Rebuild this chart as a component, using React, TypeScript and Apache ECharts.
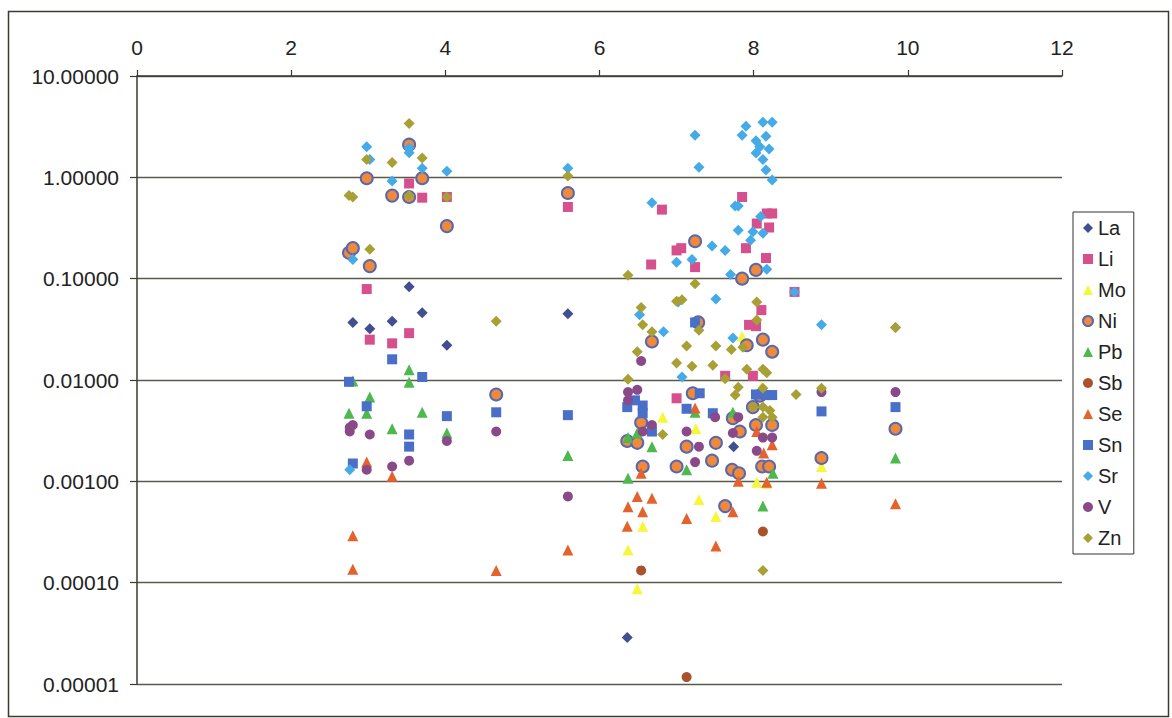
import React, { useEffect, useRef } from "react";
import * as echarts from "echarts";

type Pt = [number, number];

const seriesNames = ["La", "Li", "Mo", "Ni", "Pb", "Sb", "Se", "Sn", "Sr", "V", "Zn"];

const La: Pt[] = [[2.80,0.037],[3.02,0.032],[3.31,0.038],[3.53,0.083],[3.70,0.046],[4.02,0.022],[5.59,0.045],[6.36,0.0000288],[7.74,0.0022]];

const Li: Pt[] = [[2.98,0.079],[3.02,0.025],[3.31,0.023],[3.53,0.029],[3.53,0.87],[3.70,0.63],[4.02,0.64],[5.59,0.51],[6.67,0.138],[6.81,0.48],[7.00,0.19],[7.06,0.20],[7.24,0.13],[7.00,0.0066],[7.63,0.011],[7.85,0.64],[7.90,0.20],[7.94,0.035],[7.99,0.011],[8.03,0.034],[8.04,0.35],[8.10,0.049],[8.16,0.16],[8.17,0.44],[8.20,0.32],[8.24,0.44],[8.53,0.074]];

const Mo: Pt[] = [[6.37,0.00021],[6.49,0.000087],[6.56,0.00036],[6.82,0.0043],[7.25,0.0033],[7.29,0.00066],[7.51,0.00045],[7.85,0.027],[8.04,0.00098],[8.10,0.0085],[8.17,0.00096],[8.88,0.0014]];

const Ni: Pt[] = [[2.75,0.18],[2.80,0.20],[2.98,0.98],[3.02,0.133],[3.31,0.66],[3.53,2.1],[3.53,0.64],[3.70,0.98],[4.02,0.33],[4.66,0.0072],[5.59,0.70],[6.36,0.0025],[6.49,0.0024],[6.54,0.0038],[6.56,0.0014],[6.68,0.024],[7.00,0.0014],[7.13,0.0022],[7.21,0.0074],[7.24,0.234],[7.28,0.037],[7.46,0.0016],[7.51,0.0024],[7.63,0.00057],[7.72,0.0013],[7.73,0.0042],[7.81,0.0012],[7.82,0.0031],[7.85,0.10],[7.91,0.022],[7.99,0.0054],[8.03,0.122],[8.03,0.0036],[8.08,0.0070],[8.11,0.0014],[8.12,0.025],[8.20,0.0014],[8.24,0.019],[8.24,0.0036],[8.88,0.0017],[9.84,0.0033]];

const Pb: Pt[] = [[2.75,0.0047],[2.80,0.0098],[2.98,0.0047],[3.02,0.0068],[3.31,0.0033],[3.53,0.0126],[3.53,0.0095],[3.70,0.0048],[4.02,0.0030],[5.59,0.0018],[6.37,0.00107],[6.37,0.0027],[6.49,0.0030],[6.68,0.0022],[7.13,0.0013],[7.24,0.0048],[7.73,0.0048],[8.12,0.00057],[8.25,0.0012],[9.84,0.0017]];

const Sb: Pt[] = [[6.54,0.000132],[7.13,0.0000117],[8.12,0.00032]];

const Se: Pt[] = [[2.80,0.00029],[2.80,0.000136],[2.98,0.00155],[3.31,0.00112],[4.66,0.000132],[5.59,0.00021],[6.36,0.00036],[6.37,0.00056],[6.49,0.00071],[6.54,0.0012],[6.56,0.0005],[6.68,0.00068],[7.13,0.00043],[7.24,0.0053],[7.51,0.00023],[7.73,0.0005],[7.80,0.0010],[8.04,0.0031],[8.13,0.0019],[8.17,0.00098],[8.24,0.0023],[8.88,0.00096],[9.84,0.0006]];

const Sn: Pt[] = [[2.75,0.0096],[2.80,0.0015],[2.98,0.0055],[3.31,0.016],[3.53,0.0029],[3.53,0.0022],[3.70,0.0107],[4.02,0.0044],[4.66,0.0048],[5.59,0.0045],[6.36,0.0054],[6.46,0.0063],[6.56,0.0056],[6.56,0.0047],[6.68,0.0031],[7.13,0.0052],[7.24,0.037],[7.30,0.0074],[7.47,0.0047],[8.03,0.0072],[8.16,0.0071],[8.24,0.0071],[8.88,0.0049],[9.84,0.0054]];

const Sr: Pt[] = [[2.76,0.0013],[2.80,0.155],[2.98,2.0],[3.02,1.5],[3.31,0.92],[3.53,1.95],[3.53,1.75],[3.70,1.23],[4.02,1.15],[5.59,1.23],[6.52,0.044],[6.68,0.56],[6.83,0.030],[7.00,0.145],[7.02,0.059],[7.07,0.0107],[7.20,0.155],[7.24,2.6],[7.29,1.26],[7.46,0.21],[7.51,0.063],[7.63,0.19],[7.70,0.11],[7.73,0.026],[7.76,0.52],[7.80,0.52],[7.80,0.30],[7.85,2.6],[7.90,3.2],[7.96,0.24],[7.99,0.29],[8.03,2.3],[8.03,1.74],[8.08,2.0],[8.09,0.41],[8.12,3.5],[8.12,1.5],[8.12,0.28],[8.16,2.55],[8.16,1.18],[8.17,0.124],[8.20,1.9],[8.24,3.5],[8.24,0.94],[8.53,0.074],[8.88,0.035],[9.84,0.033]];

const V: Pt[] = [[2.76,0.0034],[2.76,0.0031],[2.80,0.0036],[2.98,0.0013],[3.02,0.0029],[3.31,0.0014],[3.53,0.0016],[4.02,0.0025],[4.66,0.0031],[5.59,0.00071],[6.37,0.0076],[6.37,0.0063],[6.49,0.0080],[6.54,0.0154],[6.56,0.0031],[6.68,0.0036],[7.13,0.0031],[7.24,0.00155],[7.29,0.0022],[7.50,0.0043],[7.73,0.0030],[7.80,0.0043],[8.04,0.0020],[8.12,0.0027],[8.24,0.0027],[8.88,0.0076],[9.84,0.0076]];

const Zn: Pt[] = [[2.75,0.66],[2.80,0.64],[2.98,1.5],[3.02,0.195],[3.31,1.4],[3.53,3.4],[3.53,0.66],[3.70,1.55],[4.02,0.64],[4.66,0.038],[5.59,1.03],[6.37,0.108],[6.37,0.0102],[6.49,0.019],[6.54,0.052],[6.56,0.035],[6.68,0.030],[6.82,0.0029],[7.00,0.060],[7.00,0.0147],[7.07,0.062],[7.13,0.0216],[7.20,0.0137],[7.24,0.089],[7.29,0.031],[7.47,0.014],[7.51,0.0216],[7.63,0.0103],[7.71,0.020],[7.76,0.0071],[7.80,0.0085],[7.86,0.021],[7.91,0.0128],[7.99,0.0054],[8.04,0.059],[8.04,0.039],[8.12,0.0128],[8.12,0.0083],[8.12,0.0054],[8.12,0.0043],[8.12,0.000132],[8.17,0.0118],[8.21,0.0050],[8.24,0.0043],[8.55,0.0072],[8.88,0.0083],[9.84,0.033]];

const xTicks = [0, 2, 4, 6, 8, 10, 12];
const yMin = 0.00001;
const yMax = 10;

const FONT = "'Liberation Sans', Arial, sans-serif";

export default function App() {
  const ref = useRef<HTMLDivElement>(null);
  useEffect(() => {
    document.body.style.margin = "0";
    if (!ref.current) return;
    const chart = echarts.init(ref.current, undefined, { renderer: "svg" });
    const dataMap: Record<string, Pt[]> = { La, Li, Mo, Ni, Pb, Sb, Se, Sn, Sr, V, Zn };
    const styles: Record<string, any> = {
      La: { symbol: "diamond", size: 11, color: "#3F4F8F" },
      Li: { symbol: "rect", size: 10, color: "#D6508E" },
      Mo: { symbol: "triangle", size: 11, color: "#F6F63A" },
      Ni: { symbol: "circle", size: 12, color: "#F08A3A", border: "#5868B0" },
      Pb: { symbol: "triangle", size: 11, color: "#4DB84D" },
      Sb: { symbol: "circle", size: 10, color: "#A8532C" },
      Se: { symbol: "triangle", size: 11, color: "#E4622C" },
      Sn: { symbol: "rect", size: 10, color: "#4A6FC8" },
      Sr: { symbol: "diamond", size: 11, color: "#45AAE8" },
      V: { symbol: "circle", size: 10, color: "#8A4A8A" },
      Zn: { symbol: "diamond", size: 11, color: "#A8A034" },
    };
    const series = seriesNames.map((name) => {
      const s = styles[name];
      return {
        name,
        type: "scatter",
        symbol: s.symbol,
        symbolSize: s.size,
        data: dataMap[name],
        itemStyle: s.border
          ? { color: s.color, borderColor: s.border, borderWidth: 2, opacity: 1 }
          : { color: s.color, opacity: 1 },
        emphasis: { disabled: true },
      };
    });
    chart.setOption({
      animation: false,
      backgroundColor: "#ffffff",
      textStyle: { fontFamily: FONT },
      grid: { left: 137, top: 76, width: 925, height: 608, containLabel: false },
      xAxis: {
        type: "value",
        position: "top",
        min: xTicks[0],
        max: xTicks[xTicks.length - 1],
        interval: 2,
        axisLine: { show: true, onZero: false, lineStyle: { color: "#3a3a30", width: 1.5 } },
        axisTick: { show: true, inside: false, length: 6, lineStyle: { color: "#3a3a30", width: 1.2 } },
        axisLabel: { color: "#222", fontSize: 21, fontFamily: FONT, margin: 18 },
        splitLine: { show: false },
      },
      yAxis: {
        type: "log",
        logBase: 10,
        min: yMin,
        max: yMax,
        axisLine: { show: true, lineStyle: { color: "#3a3a30", width: 1.5 } },
        axisTick: { show: true, inside: false, length: 7, lineStyle: { color: "#3a3a30", width: 1.2 } },
        axisLabel: {
          color: "#222",
          fontSize: 21,
          fontFamily: FONT,
          margin: 18,
          formatter: (v: number) => v.toFixed(5),
        },
        splitLine: { show: true, lineStyle: { color: "#5a5a4a", width: 1.3 } },
        minorTick: { show: false },
      },
      legend: {
        orient: "vertical",
        left: 1073,
        top: 212,
        padding: [6, 8, 6, 9],
        itemWidth: 10,
        itemHeight: 10,
        itemGap: 11,
        borderColor: "#333",
        borderWidth: 1,
        backgroundColor: "#fff",
        textStyle: { fontSize: 20, lineHeight: 20, color: "#222", fontFamily: FONT },
        data: seriesNames,
      },
      graphic: [
        {
          type: "rect",
          left: 6,
          top: 9,
          shape: { x: 0, y: 0, width: 1160, height: 705 },
          style: { fill: "none", stroke: "#3a3a30", lineWidth: 1.5 },
          silent: true,
          z: -1,
        },
      ],
      series,
    });
    return () => chart.dispose();
  }, []);
  return <div ref={ref} style={{ width: 1172, height: 718 }} />;
}
